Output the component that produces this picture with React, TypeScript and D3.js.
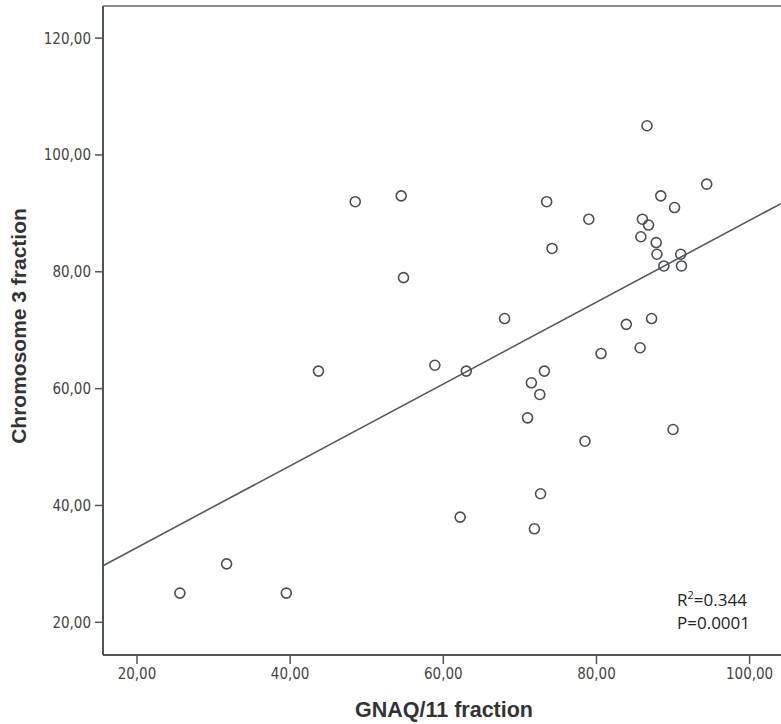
import { scaleLinear } from "d3";
import React from "react";

// GNAQ/11 fraction (x) vs Chromosome 3 fraction (y)
const gnaqValues = [
  25.6, 31.7, 39.5, 43.7, 48.5, 54.5, 54.8, 58.9, 62.2, 63.0, 68.0, 71.0, 71.5,
  71.9, 72.6, 72.7, 73.2, 73.5, 74.2, 78.5, 79.0, 80.6, 83.9, 85.7, 85.8, 86.0,
  86.6, 86.8, 87.2, 87.8, 87.9, 88.4, 88.8, 90.0, 90.2, 91.0, 91.1, 94.4,
];
const chromValues = [
  25, 30, 25, 63, 92, 93, 79, 64, 38, 63, 72, 55, 61, 36, 59, 42, 63, 92, 84,
  51, 89, 66, 71, 67, 86, 89, 105, 88, 72, 85, 83, 93, 81, 53, 91, 83, 81, 95,
];
const xTicks = [20, 40, 60, 80, 100];
const yTicks = [20, 40, 60, 80, 100, 120];

// fit line
const fitIntercept = 18.8;
const fitSlope = 0.7;
const statLines = ["R", "P=0.0001"];

const W = 781;
const H = 724;
const left = 103;
const right = 781;
const top = 6;
const bottom = 655;

const fmt = (v: number) => `${v},00`;

export default function App() {
  const x = scaleLinear().domain([15.56, 104.1]).range([left, right]);
  const y = scaleLinear().domain([14.4, 125.5]).range([bottom, top]);
  const [x0, x1] = x.domain();
  const axisColor = "#50555a";
  const tickFont = "DejaVu Sans Condensed";

  return (
    <svg
      width={W}
      height={H}
      style={{ position: "absolute", left: 0, top: 0, background: "#fff" }}
    >
      {/* frame */}
      <line x1={left} x2={right} y1={top} y2={top} stroke="#8a8e92" strokeWidth={2} />
      <line x1={left} x2={left} y1={top} y2={bottom} stroke={axisColor} strokeWidth={2} />
      <line x1={left} x2={right} y1={bottom} y2={bottom} stroke={axisColor} strokeWidth={2} />

      {/* y axis */}
      {yTicks.map((t) => (
        <g key={"y" + t}>
          <line x1={left - 8} x2={left} y1={y(t)} y2={y(t)} stroke={axisColor} strokeWidth={1.5} />
          <text
            x={left - 12}
            y={y(t)}
            dy="0.36em"
            textAnchor="end"
            fontFamily={tickFont}
            fontSize={15}
            fill="#444"
          >
            {fmt(t)}
          </text>
        </g>
      ))}

      {/* x axis */}
      {xTicks.map((t) => (
        <g key={"x" + t}>
          <line x1={x(t)} x2={x(t)} y1={bottom} y2={bottom + 9} stroke={axisColor} strokeWidth={1.5} />
          <text
            x={x(t)}
            y={bottom + 24}
            textAnchor="middle"
            fontFamily={tickFont}
            fontSize={15}
            fill="#444"
          >
            {fmt(t)}
          </text>
        </g>
      ))}

      {/* fit line */}
      <line
        x1={x(x0)}
        y1={y(fitIntercept + fitSlope * x0)}
        x2={x(x1)}
        y2={y(fitIntercept + fitSlope * x1)}
        stroke="#555a5e"
        strokeWidth={1.6}
      />

      {/* points */}
      {gnaqValues.map((g, i) => (
        <circle
          key={i}
          cx={x(g)}
          cy={y(chromValues[i])}
          r={5}
          fill="none"
          stroke="#4a4f54"
          strokeWidth={1.6}
        />
      ))}

      {/* stats */}
      <text x={677} y={606} fontFamily="Open Sans" fontSize={17} fill="#222">
        {statLines[0]}
        <tspan dy={-7} fontSize={11}>2</tspan>
        <tspan dy={7}>=0.344</tspan>
      </text>
      <text x={677} y={629} fontFamily="Open Sans" fontSize={17} fill="#222">
        {statLines[1]}
      </text>

      {/* axis titles */}
      <text
        x={444}
        y={717}
        textAnchor="middle"
        fontFamily="Liberation Sans"
        fontWeight="bold"
        fontSize={21.5}
        fill="#333"
      >
        GNAQ/11 fraction
      </text>
      <text
        transform={`translate(26, 326) rotate(-90)`}
        textAnchor="middle"
        fontFamily="Liberation Sans"
        fontWeight="bold"
        fontSize={21}
        fill="#333"
      >
        Chromosome 3 fraction
      </text>
    </svg>
  );
}
